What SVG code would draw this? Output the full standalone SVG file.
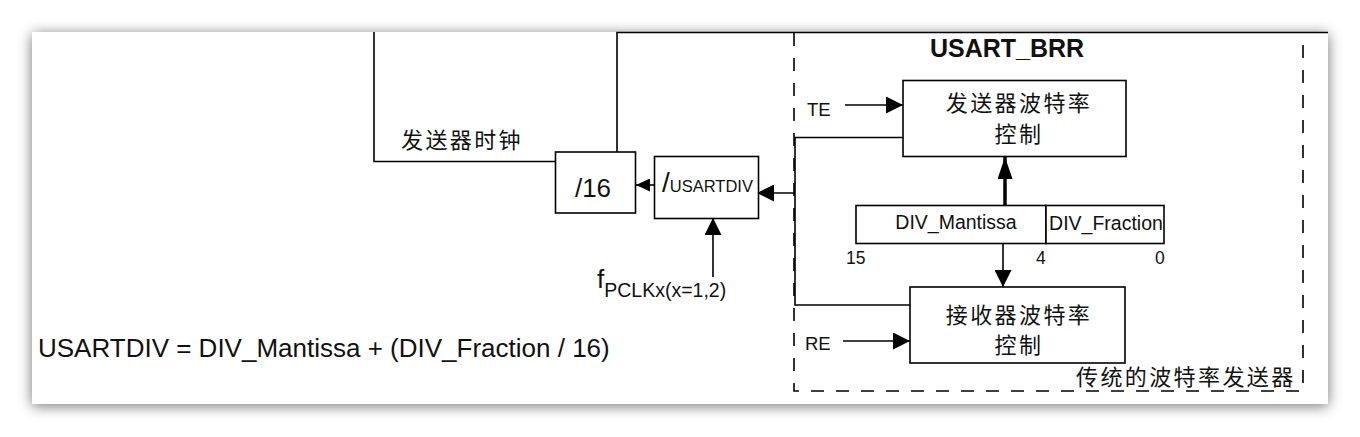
<svg xmlns="http://www.w3.org/2000/svg" width="1360" height="437" viewBox="0 0 1360 437">
<defs>
<filter id="shadow" x="-5%" y="-10%" width="110%" height="120%">
<feDropShadow dx="0" dy="2" stdDeviation="7" flood-color="#000" flood-opacity="0.55"/>
</filter>
<marker id="ah" markerUnits="userSpaceOnUse" markerWidth="17" markerHeight="17" refX="17" refY="8.5" orient="auto">
<path d="M0,0 L17,8.5 L0,17 z" fill="#000"/>
</marker>
<marker id="ahs" markerUnits="userSpaceOnUse" markerWidth="14" markerHeight="13" refX="14" refY="6.5" orient="auto">
<path d="M0,0 L14,6.5 L0,13 z" fill="#000"/>
</marker>
<marker id="aht" markerUnits="userSpaceOnUse" markerWidth="22" markerHeight="15" refX="22" refY="7.5" orient="auto">
<path d="M0,0 L22,7.5 L0,15 z" fill="#000"/>
</marker>
<style>
.ln{fill:none;stroke:#000;stroke-width:1.6}
.box{fill:#fff;stroke:#000;stroke-width:1.6}
.dash{fill:none;stroke:#000;stroke-width:1.6;stroke-dasharray:13,12}
.t{font-family:"Liberation Sans",Arial,sans-serif;fill:#111}
.cn{font-family:"Noto Sans CJK SC","Noto Sans",sans-serif;font-size:22px;letter-spacing:2.4px;fill:#111}
</style>
</defs>
<rect width="1360" height="437" fill="#fff"/>
<rect x="32" y="32" width="1296" height="372" fill="#fff" filter="url(#shadow)"/>

<g id="dashed-frame">
<path class="dash" d="M794,33 V391 H1303 V33"/>
<text class="t" x="1007" y="57" font-size="25" font-weight="bold" text-anchor="middle">USART_BRR</text>
<text class="cn" x="1076" y="385">传统的波特率发送器</text>
</g>

<g id="connectors">
<path class="ln" d="M374,32 V161.5 H556"/>
<path class="ln" d="M617,152 V32.5 H1328"/>
<path class="ln" d="M654,185 H636" marker-end="url(#ahs)"/>
<path class="ln" d="M795,193 H757" marker-end="url(#ah)"/>
<path class="ln" d="M795,137.5 V305 H910"/>
<path class="ln" d="M795,137.5 H903"/>
<path class="ln" d="M713,277 V218" marker-end="url(#ah)"/>
<path class="ln" d="M845,105 H903" marker-end="url(#ah)"/>
<path class="ln" d="M843,341 H910" marker-end="url(#ah)"/>
<path fill="none" stroke="#000" stroke-width="3.5" d="M1005,205 V157" marker-end="url(#aht)"/>
<path class="ln" d="M1003,243 V287" marker-end="url(#ah)"/>
</g>

<g id="label-tx-clock">
<text class="cn" x="401" y="148">发送器时钟</text>
</g>

<g id="div16">
<rect class="box" x="555.5" y="152" width="80" height="61"/>
<text class="t" x="593" y="197" font-size="26" text-anchor="middle">/16</text>
</g>

<g id="usartdiv">
<rect class="box" x="654.5" y="156.5" width="104" height="62"/>
<text class="t" x="662" y="192"><tspan font-size="28">/</tspan><tspan font-size="16.5">USARTDIV</tspan></text>
</g>

<g id="fpclk">
<text class="t" x="597" y="288" font-size="26">f<tspan font-size="19.5" dy="9">PCLKx(x=1,2)</tspan></text>
</g>

<g id="tx-ctrl">
<rect class="box" x="903" y="80.5" width="223" height="76"/>
<text class="cn" x="1019" y="111" text-anchor="middle">发送器波特率</text>
<text class="cn" x="1019" y="142" text-anchor="middle">控制</text>
</g>

<g id="te">
<text class="t" x="807" y="116" font-size="18.5">TE</text>
</g>

<g id="brr-register">
<rect class="box" x="856" y="205.5" width="190" height="38"/>
<rect class="box" x="1046" y="205.5" width="118" height="38"/>
<text class="t" x="956" y="229" font-size="19.5" text-anchor="middle">DIV_Mantissa</text>
<text class="t" x="1106" y="230" font-size="19.5" text-anchor="middle">DIV_Fraction</text>
<text class="t" x="846" y="264" font-size="17.5">15</text>
<text class="t" x="1036" y="264" font-size="17.5">4</text>
<text class="t" x="1155" y="264" font-size="17.5">0</text>
</g>

<g id="rx-ctrl">
<rect class="box" x="910" y="287" width="215" height="76"/>
<text class="cn" x="1019" y="323" text-anchor="middle">接收器波特率</text>
<text class="cn" x="1019" y="353" text-anchor="middle">控制</text>
</g>

<g id="re">
<text class="t" x="805" y="350" font-size="18.5">RE</text>
</g>

<g id="formula">
<text class="t" x="38" y="357" font-size="26">USARTDIV = DIV_Mantissa + (DIV_Fraction / 16)</text>
</g>
</svg>
